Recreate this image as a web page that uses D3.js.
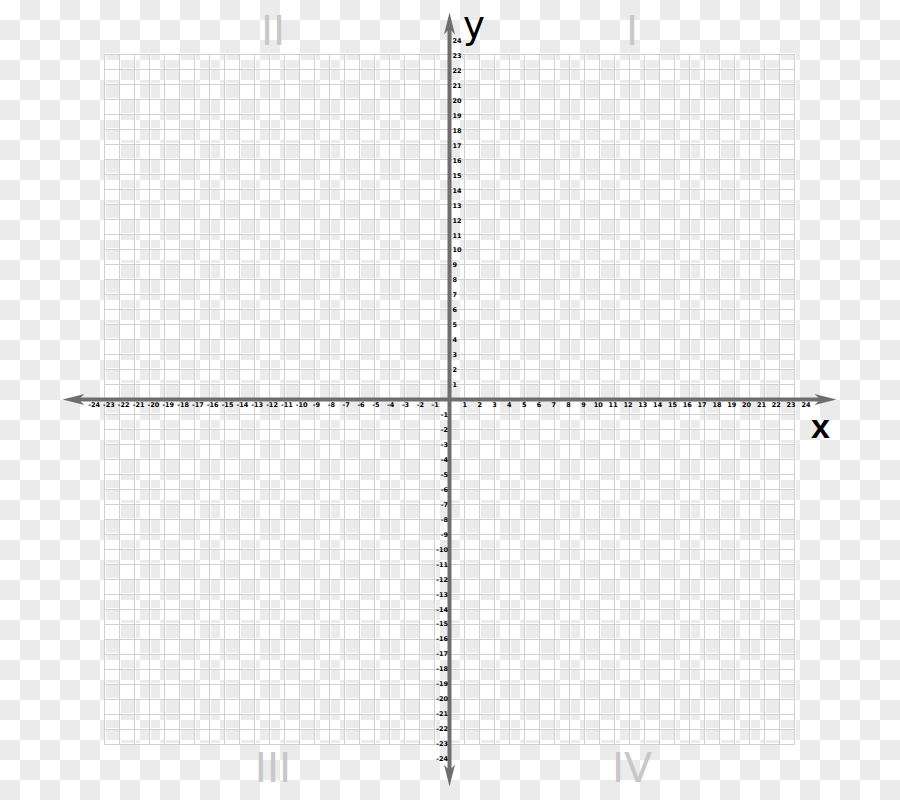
<!DOCTYPE html>
<html>
<head>
<meta charset="utf-8">
<script src="https://cdn.jsdelivr.net/npm/d3@7"></script>
<style>
  html, body { margin: 0; padding: 0; background: #fff; }
  svg { display: block; }
</style>
</head>
<body>
<svg id="chart" width="900" height="800"></svg>
<script>
// ---- data ----
const xTickValues = [-24,-23,-22,-21,-20,-19,-18,-17,-16,-15,-14,-13,-12,-11,-10,-9,-8,-7,-6,-5,-4,-3,-2,-1,
                     1,2,3,4,5,6,7,8,9,10,11,12,13,14,15,16,17,18,19,20,21,22,23,24];
const yPositiveTicks = [1,2,3,4,5,6,7,8,9,10,11,12,13,14,15,16,17,18,19,20,21,22,23,24];
const yNegativeTicks = [-1,-2,-3,-4,-5,-6,-7,-8,-9,-10,-11,-12,-13,-14,-15,-16,-17,-18,-19,-20,-21,-22,-23,-24];
const gridValues = [-23,-22,-21,-20,-19,-18,-17,-16,-15,-14,-13,-12,-11,-10,-9,-8,-7,-6,-5,-4,-3,-2,-1,0,
                    1,2,3,4,5,6,7,8,9,10,11,12,13,14,15,16,17,18,19,20,21,22,23];
const quadrantNames = ["I", "II", "III", "IV"];
const axisNames = ["x", "y"];

// ---- layout ----
const W = 900, H = 800;
const ox = 449.5, oy = 399.5;
const svg = d3.select("#chart");

// scales for axis labels
const x = d3.scaleLinear().domain([-24, 24]).range([ox - 24 * 14.83, ox + 24 * 14.83]);
const y = d3.scaleLinear().domain([-24, 24]).range([oy + 24 * 14.96, oy - 24 * 14.96]);
// scales for the decorative grid
const gx = d3.scaleLinear().domain([-23, 23]).range([ox - 23 * 15, ox + 23 * 15]);
const gy = d3.scaleLinear().domain([-23, 23]).range([oy + 23 * 15, oy - 23 * 15]);

// checkerboard background
const defs = svg.append("defs");
const pat = defs.append("pattern").attr("id", "checker")
  .attr("patternUnits", "userSpaceOnUse").attr("width", 40).attr("height", 40);
pat.append("rect").attr("width", 40).attr("height", 40).attr("fill", "#ffffff");
pat.append("rect").attr("x", 20).attr("y", 0).attr("width", 20).attr("height", 20).attr("fill", "#ebebeb");
pat.append("rect").attr("x", 0).attr("y", 20).attr("width", 20).attr("height", 20).attr("fill", "#ebebeb");
svg.append("rect").attr("width", W).attr("height", H).attr("fill", "url(#checker)");

// grid
const grid = svg.append("g").attr("class", "grid");
const gx0 = gx(-23), gx1 = gx(23), gy0 = gy(23), gy1 = gy(-23);
// thin white companion lines
grid.selectAll("line.vw").data(gridValues).join("line").attr("class", "vw")
  .attr("x1", d => gx(d) + 1).attr("x2", d => gx(d) + 1).attr("y1", gy0).attr("y2", gy1)
  .attr("stroke", "#ffffff").attr("stroke-width", 1);
grid.selectAll("line.hw").data(gridValues).join("line").attr("class", "hw")
  .attr("y1", d => gy(d) - 1).attr("y2", d => gy(d) - 1).attr("x1", gx0).attr("x2", gx1)
  .attr("stroke", "#ffffff").attr("stroke-width", 1);
grid.selectAll("line.v").data(gridValues).join("line").attr("class", "v")
  .attr("x1", d => gx(d)).attr("x2", d => gx(d)).attr("y1", gy0).attr("y2", gy1)
  .attr("stroke", "#d0d0d0").attr("stroke-width", 1);
grid.selectAll("line.h").data(gridValues).join("line").attr("class", "h")
  .attr("y1", d => gy(d)).attr("y2", d => gy(d)).attr("x1", gx0).attr("x2", gx1)
  .attr("stroke", "#d0d0d0").attr("stroke-width", 1);

// axes lines with arrowheads
const axisColor = "#6e6e6e";
const ext = 387;
const axes = svg.append("g");
axes.append("line").attr("x1", ox - ext + 12).attr("x2", ox + ext - 12).attr("y1", oy).attr("y2", oy)
  .attr("stroke", axisColor).attr("stroke-width", 4);
axes.append("line").attr("y1", oy - ext + 12).attr("y2", oy + ext - 12).attr("x1", ox).attr("x2", ox)
  .attr("stroke", axisColor).attr("stroke-width", 4);
const arrowPath = "M0,0 L-22,-5.5 L-16,0 L-22,5.5 Z";
[[ox + ext, oy, 0], [ox - ext, oy, 180], [ox, oy - ext, -90], [ox, oy + ext, 90]].forEach(([ax, ay, r]) => {
  axes.append("path").attr("d", arrowPath)
    .attr("transform", `translate(${ax},${ay}) rotate(${r})`)
    .attr("fill", axisColor);
});

// tick labels via d3 axes
const tickFont = "'DejaVu Sans', sans-serif";
const xAxis = d3.axisBottom(x).tickValues(xTickValues).tickSize(0).tickPadding(0).tickFormat(d => String(d));
const gX = svg.append("g").attr("transform", `translate(0,${oy + 3})`).call(xAxis);
const yAxisPos = d3.axisRight(y).tickValues(yPositiveTicks).tickSize(0).tickPadding(0).tickFormat(d => String(d));
const gYp = svg.append("g").attr("transform", `translate(${ox + 3},0)`).call(yAxisPos);
const yAxisNeg = d3.axisLeft(y).tickValues(yNegativeTicks).tickSize(0).tickPadding(0).tickFormat(d => String(d));
const gYn = svg.append("g").attr("transform", `translate(${ox - 1.5},0)`).call(yAxisNeg);
[gX, gYp, gYn].forEach(g => {
  g.select(".domain").remove();
  g.selectAll("text").attr("font-family", tickFont).attr("font-weight", "bold")
    .attr("font-size", "6.5px").attr("fill", "#000");
});
gX.selectAll("text").attr("dy", "0.71em");

// axis names
svg.append("text").text(axisNames[0]).attr("x", 811).attr("y", 438)
  .attr("font-family", "'Liberation Sans', Arial, sans-serif").attr("font-weight", "bold")
  .attr("font-size", "34px").attr("fill", "#000");
svg.append("text").text(axisNames[1]).attr("x", 463).attr("y", 38)
  .attr("font-family", "'DejaVu Sans', sans-serif")
  .attr("font-size", "37px").attr("fill", "#000");

// quadrant numerals
const quadPos = { "I": [632, 45], "II": [273, 45], "III": [273, 782], "IV": [632, 782] };
svg.append("g").selectAll("text").data(quadrantNames).join("text")
  .text(d => d)
  .attr("x", d => quadPos[d][0]).attr("y", d => quadPos[d][1])
  .attr("text-anchor", "middle")
  .attr("font-family", "'DejaVu Sans', sans-serif")
  .attr("font-size", "41px").attr("fill", "#c8c8c8");
</script>
</body>
</html>
